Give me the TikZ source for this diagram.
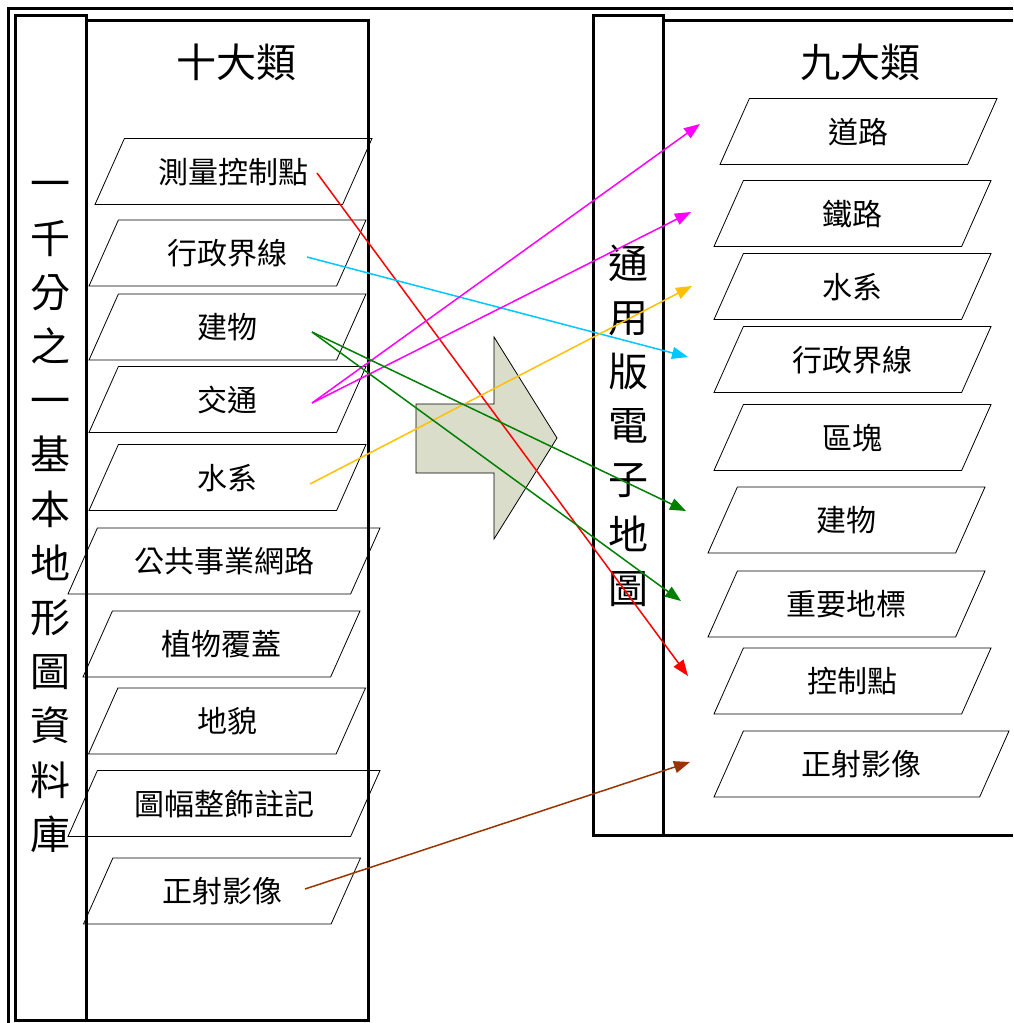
\documentclass[tikz,border=0pt]{standalone}
\usepackage{fontspec}
\newfontfamily\cjk{Noto Sans CJK TC}
\usetikzlibrary{shapes.geometric,arrows.meta}

\definecolor{arrowfill}{RGB}{218,221,202}
\definecolor{linkred}{RGB}{255,0,0}
\definecolor{linkcyan}{RGB}{0,200,255}
\definecolor{linkmagenta}{RGB}{255,0,255}
\definecolor{linkgold}{RGB}{255,192,0}
\definecolor{linkgreen}{RGB}{0,128,0}
\definecolor{linkbrown}{RGB}{153,51,0}

\tikzset{
  mapbox/.style={trapezium,draw,line width=0.8pt,trapezium left angle=66,trapezium right angle=114,
    trapezium stretches body,minimum width=277pt,inner xsep=0pt,inner ysep=19.5pt,
    text height=25pt,text depth=2pt,font=\cjk\fontsize{30}{30}\selectfont},
  frame/.style={line width=3pt},
  vtext/.style={align=center,inner sep=0pt,font=\cjk\fontsize{40}{54.2}\selectfont},
  title/.style={inner sep=0pt,font=\cjk\fontsize{40}{40}\selectfont},
  link/.style={line width=1.5pt,-{Triangle[length=16pt,width=12pt]}},
}

\begin{document}
\begin{tikzpicture}[x=1pt,y=-1pt]
\useasboundingbox (0,0) rectangle (1013,1023);

% frames
\draw[frame] (8,1023) -- (8,8) -- (1013,8);
\draw[frame] (15,15) rectangle (86,1020);
\draw[frame] (86,20) rectangle (368,1020);
\draw[frame] (593,15) rectangle (663,835);
\draw[frame] (1013,20) -- (663,20) -- (663,835) -- (1013,835);

\node (db) at (50.5,517) [vtext] {一\\千\\分\\之\\一\\基\\本\\地\\形\\圖\\資\\料\\庫};
\node (em) at (628,425.5) [vtext] {通\\用\\版\\電\\子\\地\\圖};
\node (t1) at (236,62) [title] {十大類};
\node (t2) at (860,62) [title] {九大類};

% big arrow
\draw[fill=arrowfill,line width=0.8pt]
  (416,404) -- (494,404) -- (494,337) -- (557,438) -- (494,539) -- (494,473) -- (416,473) -- cycle;

% ten classes
\node (l1) at (233.5,171.5) [mapbox] {測量控制點};
\node (l2) at (227.5,253) [mapbox] {行政界線};
\node (l3) at (227.5,327) [mapbox] {建物};
\node (l4) at (227.5,399.5) [mapbox] {交通};
\node (l5) at (227.5,477.5) [mapbox] {水系};
\node (l6) at (224,561) [mapbox,minimum width=312pt] {公共事業網路};
\node (l7) at (221.5,644) [mapbox] {植物覆蓋};
\node (l8) at (227,721) [mapbox] {地貌};
\node (l9) at (224,803.5) [mapbox,minimum width=312pt] {圖幅整飾註記};
\node (l10) at (222,891) [mapbox] {正射影像};

% nine classes
\node (r1) at (858.5,131.5) [mapbox] {道路};
\node (r2) at (852.5,213.5) [mapbox] {鐵路};
\node (r3) at (852.5,286.5) [mapbox] {水系};
\node (r4) at (852.5,359.5) [mapbox] {行政界線};
\node (r5) at (852.5,437.5) [mapbox] {區塊};
\node (r6) at (846.5,520) [mapbox] {建物};
\node (r7) at (846.5,604) [mapbox] {重要地標};
\node (r8) at (852.5,681) [mapbox] {控制點};
\node (r9) at (861.5,764) [mapbox,minimum width=295pt] {正射影像};

% link ends
\coordinate (s1) at (317,173);
\coordinate (s2) at (307,257);
\coordinate (s3) at (312,332);
\coordinate (s4) at (312,403);
\coordinate (s5) at (310,484);
\coordinate (s10) at (305,889);
\coordinate (e1) at (700,124);
\coordinate (e2) at (691,212);
\coordinate (e3) at (692,286);
\coordinate (e4) at (688,357);
\coordinate (e6) at (686,511);
\coordinate (e7) at (681,601);
\coordinate (e8) at (688,676);
\coordinate (e9) at (690,762);

\draw[link,linkred] (s1) -- (e8);
\draw[link,linkcyan] (s2) -- (e4);
\draw[link,linkmagenta] (s4) -- (e1);
\draw[link,linkmagenta] (s4) -- (e2);
\draw[link,linkgold] (s5) -- (e3);
\draw[link,linkgreen] (s3) -- (e6);
\draw[link,linkgreen] (s3) -- (e7);
\draw[link,linkbrown] (s10) -- (e9);
\end{tikzpicture}
\end{document}
